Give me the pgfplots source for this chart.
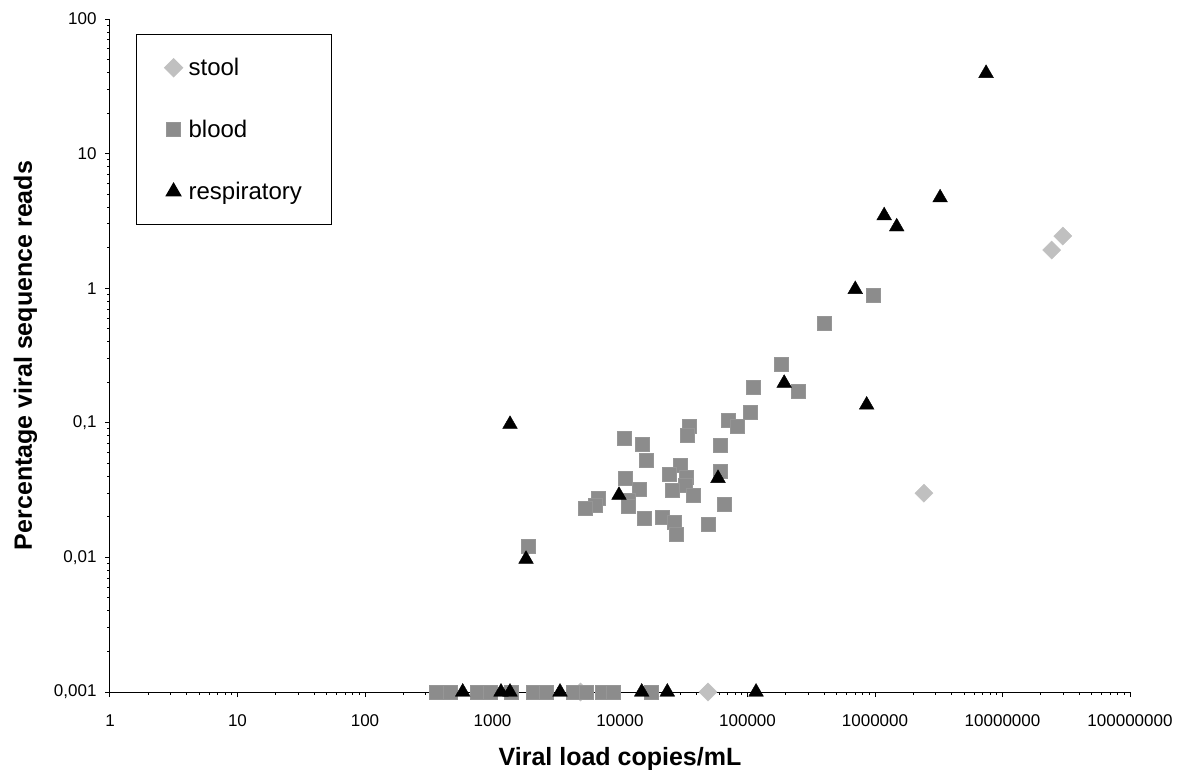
\documentclass[border=0pt]{standalone}
\usepackage{pgfplots}
\pgfplotsset{compat=1.18}
\usepackage{fontspec}
\setmainfont{Liberation Sans}
\definecolor{stoolgray}{RGB}{192,192,192}
\definecolor{bloodgray}{RGB}{140,140,140}
\definecolor{bloodedge}{RGB}{150,150,150}

\pgfplotstableread{
x y
4900 0.001
49000 0.001
2.42e6 0.03
2.43e7 1.92
2.97e7 2.44
}\stool

\pgfplotstableread{
x y
365 0.001
464 0.001
754 0.001
955 0.001
1395 0.001
2090 0.001
2660 0.001
4300 0.001
5480 0.001
7250 0.001
8900 0.001
17600 0.001
4.0e5 0.55
9.7e5 0.885
1.83e5 0.273
1.11e5 0.185
2.48e5 0.170
1.06e5 0.120
7.07e4 0.105
8.38e4 0.0935
6.08e4 0.0684
3.5e4 0.0947
3.37e4 0.0802
1.08e4 0.0767
1.50e4 0.0692
1.60e4 0.053
2.96e4 0.0486
6.17e4 0.044
2.42e4 0.0414
3.34e4 0.0391
1.11e4 0.0387
3.23e4 0.0345
1.42e4 0.0321
2.59e4 0.0313
3.76e4 0.0291
6760 0.0275
1.16e4 0.0267
6450 0.0245
1.16e4 0.0238
5310 0.0232
6.55e4 0.0249
1.55e4 0.0195
2.15e4 0.0197
2.67e4 0.0181
4.93e4 0.0177
2.75e4 0.0149
1910 0.0120
}\blood

\pgfplotstableread{
x y
584 0.001
1166 0.001
1372 0.001
3385 0.001
14800 0.001
23500 0.001
116700 0.001
1372 0.0975
1832 0.0097
9820 0.029
58700 0.0387
1.94e5 0.197
8.6e5 0.1357
7.0e5 0.98
1.18e6 3.46
1.48e6 2.86
3.24e6 4.70
7.43e6 39.5
}\resp

\begin{document}
\begin{tikzpicture}
\useasboundingbox (-110pt,-77pt) rectangle (1067pt,692pt);
\begin{axis}[
    width=1020pt, height=673pt, scale only axis,
    xmode=log, ymode=log,
    xmin=1, xmax=1e8, ymin=0.001, ymax=100,
    axis x line=bottom, axis y line=left,
    axis line style={-, line width=1pt, black},
    xtick={1,10,100,1000,10000,100000,1000000,10000000,100000000},
    xticklabels={1,10,100,1000,10000,100000,1000000,10000000,100000000},
    ytick={0.001,0.01,0.1,1,10,100},
    yticklabels={{0,001},{0,01},{0,1},1,10,100},
    tick align=outside, major tick length=5pt, minor tick num=0,
    tick style={black, line width=1pt},
    ticklabel style={font=\fontsize{17}{20}\selectfont},
    xticklabel style={yshift=-14pt},
    yticklabel style={xshift=-5pt},
    xlabel={Viral load copies/mL},
    ylabel={Percentage viral sequence reads},
    label style={font=\bfseries\fontsize{25}{30}\selectfont},
    xlabel style={at={(axis description cs:0.5,-0.0773)}, anchor=north},
    ylabel style={at={(axis description cs:-0.0828,0.5)}, anchor=center},
    clip=false,
    legend cell align=left,
    legend image code/.code={\draw[#1] plot coordinates {(0pt,0pt)};},
    legend style={at={(axis description cs:0.0255,0.978)}, anchor=north west,
        draw=black, line width=1pt, font=\fontsize{24}{28}\selectfont,
        inner xsep=28pt, inner ysep=22pt, row sep=39pt, column sep=4pt},
]
\addplot[only marks, mark=square*, mark size=6.4pt,
    mark options={rotate=45, fill=stoolgray, draw=stoolgray}] table {\stool};
\addplot[only marks, mark=square*, mark size=7pt,
    mark options={fill=bloodgray, draw=bloodedge, line width=0.6pt}] table {\blood};
\addplot[only marks, mark=triangle*, mark size=8.5pt,
    mark options={fill=black, draw=black}] table {\resp};
\legend{stool, blood, respiratory}
\end{axis}
\end{tikzpicture}
\end{document}
